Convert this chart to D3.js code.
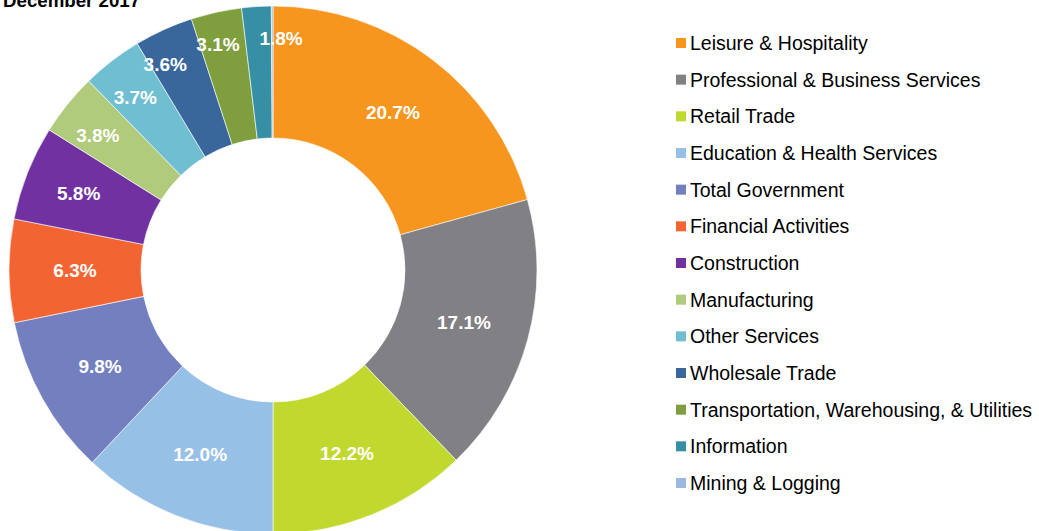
<!DOCTYPE html>
<html>
<head>
<meta charset="utf-8">
<script src="https://cdn.jsdelivr.net/npm/d3@7"></script>
<style>
  html, body { margin: 0; padding: 0; background: #fff; }
  svg { display: block; font-family: "Liberation Sans", Arial, sans-serif; }
</style>
</head>
<body>
<svg id="chart" width="1039" height="531"></svg>
<script>
// Share of employment by industry, December 2017
const categories = [
  "Leisure & Hospitality",
  "Professional & Business Services",
  "Retail Trade",
  "Education & Health Services",
  "Total Government",
  "Financial Activities",
  "Construction",
  "Manufacturing",
  "Other Services",
  "Wholesale Trade",
  "Transportation, Warehousing, & Utilities",
  "Information",
  "Mining & Logging"
];
const shares = [20.7, 17.1, 12.2, 12.0, 9.8, 6.3, 5.8, 3.8, 3.7, 3.6, 3.1, 1.8, 0.1];
const colors = [
  "#f7961f", "#808085", "#c1d82f", "#97c0e6", "#747fbf", "#f26533",
  "#7131a1", "#afcb7b", "#6fbed2", "#3a679b", "#7f9f3f", "#378fa6", "#9bb9e0"
];
const title = "December 2017";

const svg = d3.select("#chart");
const cx = 273, cy = 270, outerR = 264, innerR = 132;

svg.append("text")
  .attr("x", 3).attr("y", 7)
  .attr("font-size", 18.7).attr("font-weight", "bold")
  .attr("fill", "#000")
  .text(title);

const data = categories.map((c, i) => ({ name: c, value: shares[i], color: colors[i] }));

const pie = d3.pie().value(d => d.value).sort(null);
const arc = d3.arc().innerRadius(innerR).outerRadius(outerR);

const g = svg.append("g").attr("transform", `translate(${cx},${cy})`);
const arcs = pie(data);

g.selectAll("path.slice")
  .data(arcs)
  .join("path")
  .attr("class", "slice")
  .attr("d", arc)
  .attr("fill", d => d.data.color)
  .attr("stroke", "#fff")
  .attr("stroke-width", 0.6);

// Narrow slices get their labels pushed outward (and nudged sideways) so they fit.
const labelRadius = [198, 198, 198, 198, 198, 198, 209, 221, 221, 232, 232, 232, 198];
const labelNudgeDeg = [0, 0, 0, 0, 0, 0, 0, -1.3, -0.9, -3.2, -1.3, 5.6, 0];
function labelPos(d, i) {
  const a = (d.startAngle + d.endAngle) / 2 + labelNudgeDeg[i] * Math.PI / 180;
  const r = labelRadius[i];
  return [r * Math.sin(a), -r * Math.cos(a)];
}

g.selectAll("text.val")
  .data(arcs)
  .join("text")
  .attr("class", "val")
  .filter(d => d.data.value >= 1)
  .attr("transform", (d, i) => `translate(${labelPos(d, d.index)})`)
  .attr("text-anchor", "middle")
  .attr("dominant-baseline", "central")
  .attr("font-size", 19)
  .attr("font-weight", "bold")
  .attr("fill", "#fff")
  .text(d => d.data.value.toFixed(1) + "%");

// Legend
const legendY = d3.scalePoint().domain(categories).range([43, 483]);
const legend = svg.append("g");
const items = legend.selectAll("g")
  .data(data)
  .join("g")
  .attr("transform", d => `translate(676,${legendY(d.name)})`);
items.append("rect")
  .attr("x", 0).attr("y", -5)
  .attr("width", 10).attr("height", 10)
  .attr("fill", d => d.color);
items.append("text")
  .attr("x", 14).attr("y", 0)
  .attr("dominant-baseline", "central")
  .attr("font-size", 19.5)
  .attr("fill", "#000")
  .text(d => d.name);
</script>
</body>
</html>
